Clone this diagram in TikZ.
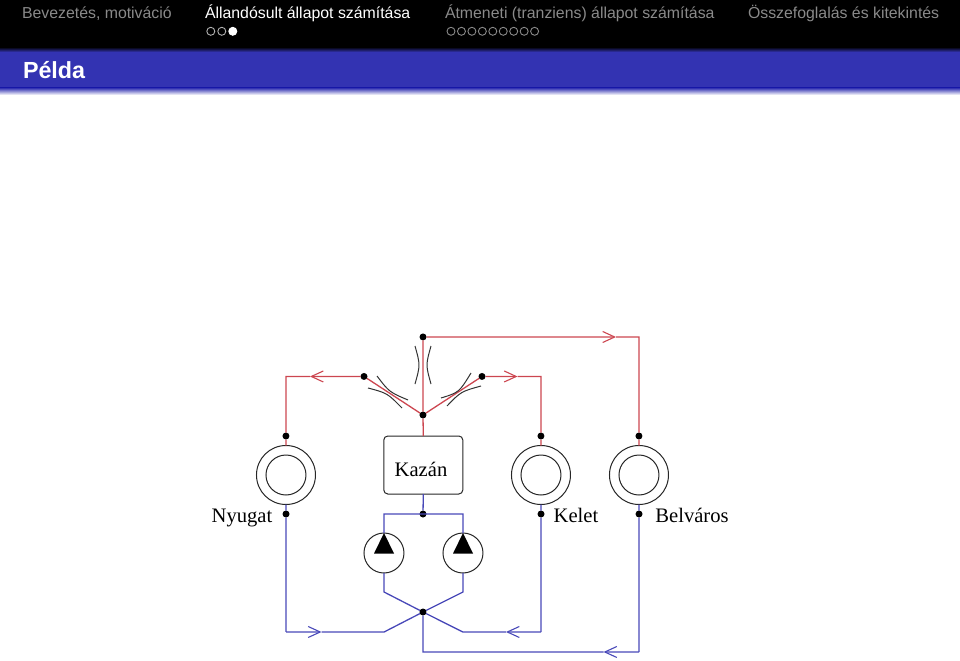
\documentclass[tikz,border=0pt]{standalone}
\usepackage{fontspec}
\setmainfont{Liberation Serif}
\newfontfamily\headfont{Liberation Sans}
\usetikzlibrary{arrows.meta,shapes.geometric}
\definecolor{supply}{HTML}{CC4650}
\definecolor{ret}{HTML}{4848B8}
\definecolor{band}{HTML}{3333B2}
\definecolor{muted}{HTML}{8A8A8A}
\tikzset{
  x=1bp,y=-1bp,
  every node/.style={inner sep=0pt,outer sep=0pt},
  joint/.style={circle,fill=black,minimum size=7bp},
  hot/.style={draw=supply,line width=1.3bp},
  cold/.style={draw=ret,line width=1.3bp},
  flow/.style={-{Straight Barb[length=12bp,width=11bp,line width=1.1bp]}},
  ring/.style={circle,draw=black!85,line width=1bp,fill=white},
  arc line/.style={draw=black!80,line width=1bp},
  navtext/.style={font=\headfont\fontsize{15.85bp}{18bp}\selectfont,anchor=base west},
  label/.style={font=\fontsize{20.6bp}{22bp}\selectfont,anchor=base,text=black},
  navdot/.style={circle,draw=muted,line width=0.9bp,minimum size=8bp}
}
\begin{document}
\begin{tikzpicture}
\useasboundingbox (0,0) rectangle (960,661);
% head line and title band
\fill[black] (0,0) rectangle (960,47);
\shade[top color=black,bottom color=band] (0,47) rectangle (960,52);
\fill[band] (0,52) rectangle (960,88);
\shade[top color=band,bottom color=white] (0,88) rectangle (960,95);
\node[navtext,text=muted] (s1) at (22,19) {Bevezetés, motiváció};
\node[navtext,text=white] (s2) at (205,19) {Állandósult állapot számítása};
\node[navtext,text=muted] (s3) at (445,19) {Átmeneti (tranziens) állapot számítása};
\node[navtext,text=muted] (s4) at (748,19) {Összefoglalás és kitekintés};
\node[anchor=base west,text=white,font=\headfont\bfseries\fontsize{23.3bp}{25bp}\selectfont] (title) at (23,79) {Példa};
% section progress dots
\node[navdot,draw=white!70!black] (d1) at (210.8,31.3) {};
\node[navdot,draw=white!70!black] (d2) at (221.8,31.3) {};
\node[navdot,fill=white,draw=white] (d3) at (232.8,31.3) {};
\foreach \i in {0,...,8} \node[navdot] (e\i) at (451+\i*10.45,31.3) {};

% consumers, boiler and pumps
\node[ring,minimum size=59bp] (nyO) at (285.98,475) {};
\node[ring,minimum size=40bp] (nyI) at (285.98,475) {};
\node[ring,minimum size=59bp] (keO) at (540.98,475) {};
\node[ring,minimum size=40bp] (keI) at (540.98,475) {};
\node[ring,minimum size=59bp] (beO) at (638.98,475) {};
\node[ring,minimum size=40bp] (beI) at (638.98,475) {};
\node[draw=black!85,line width=1bp,rounded corners=4bp,minimum width=79bp,minimum height=58bp] (boiler) at (423.3,465) {};
\node[label] (boilerText) at (421,476) {Kazán};
\node[ring,minimum size=40bp] (pumpL) at (383.98,553) {};
\node[ring,minimum size=40bp] (pumpR) at (462.98,553) {};
\fill[black] (384,533) -- (394,553.5) -- (374,553.5) -- cycle;
\fill[black] (463,533) -- (473,553.5) -- (453,553.5) -- cycle;
\node[label] (nyText) at (242,522) {Nyugat};
\node[label] (keText) at (576,522) {Kelet};
\node[label] (beText) at (692,522) {Belváros};

% joints
\node[joint] (top) at (423.02,336.96) {};
\node[joint] (mid) at (422.98,415) {};
\node[joint] (lv) at (364,376.44) {};
\node[joint] (rv) at (482,376.44) {};
\node[joint] (nyT) at (285.94,436) {};
\node[joint] (keT) at (540.94,436) {};
\node[joint] (beT) at (638.94,436) {};
\node[joint] (nyB) at (286.02,514) {};
\node[joint] (keB) at (541.02,514) {};
\node[joint] (beB) at (639.02,514) {};
\node[joint] (bo) at (423,514) {};
\node[joint] (cross) at (422.98,612) {};

% routing points
\coordinate (tipA) at (310,376.48);
\coordinate (cA) at (286.02,376.52);
\coordinate (tipB) at (517.5,376.48);
\coordinate (cB) at (541.02,376.52);
\coordinate (tipC) at (616,337);
\coordinate (cC) at (639.02,337.04);
\coordinate (blL) at (384.02,513.98);
\coordinate (blR) at (463.02,514.02);
\coordinate (kL) at (384.02,592);
\coordinate (kR) at (463.02,592);
\coordinate (fL) at (384,632.04);
\coordinate (fR) at (463,632.04);
\coordinate (tipD) at (321.5,632);
\coordinate (cD) at (286.06,631.96);
\coordinate (tipE) at (506,632);
\coordinate (cE) at (541.06,631.96);
\coordinate (fB) at (423.02,652.04);
\coordinate (tipF) at (603.5,652);
\coordinate (cF) at (639.06,651.96);

% supply side
\draw[hot] (boiler.north) -- (mid);
\draw[hot] (mid) -- (top);
\draw[hot] (mid) -- (lv);
\draw[hot] (mid) -- (rv);
\draw[hot,flow] (lv) -- (tipA);
\draw[hot] (tipA) -- (cA) -- (nyT) -- (nyO.north);
\draw[hot,flow] (rv) -- (tipB);
\draw[hot] (tipB) -- (cB) -- (keT) -- (keO.north);
\draw[hot,flow] (top) -- (tipC);
\draw[hot] (tipC) -- (cC) -- (beT) -- (beO.north);

% return side
\draw[cold] (boiler.south) -- (bo);
\draw[cold] (pumpL.north) -- (blL) -- (blR) -- (pumpR.north);
\draw[cold] (pumpL.south) -- (kL) -- (cross);
\draw[cold] (pumpR.south) -- (kR) -- (cross);
\draw[cold] (nyO.south) -- (nyB) -- (cD);
\draw[cold,flow] (cD) -- (tipD);
\draw[cold] (tipD) -- (fL) -- (cross);
\draw[cold] (keO.south) -- (keB) -- (cE);
\draw[cold,flow] (cE) -- (tipE);
\draw[cold] (tipE) -- (fR) -- (cross);
\draw[cold] (beO.south) -- (beB) -- (cF);
\draw[cold,flow] (cF) -- (tipF);
\draw[cold] (tipF) -- (fB) -- (cross);

% valve throats
\draw[arc line] (415,346) .. controls (420.3,365) .. (415,384);
\draw[arc line] (431,346) .. controls (425.7,365) .. (431,384);
\draw[arc line] (377,376) .. controls (389.2,392) .. (408,400);
\draw[arc line] (368,388) .. controls (387.3,393.1) .. (402,408);
\draw[arc line] (471,373) .. controls (459.1,392.4) .. (441,398);
\draw[arc line] (481,386) .. controls (460.9,391.6) .. (447,406);
\end{tikzpicture}
\end{document}
